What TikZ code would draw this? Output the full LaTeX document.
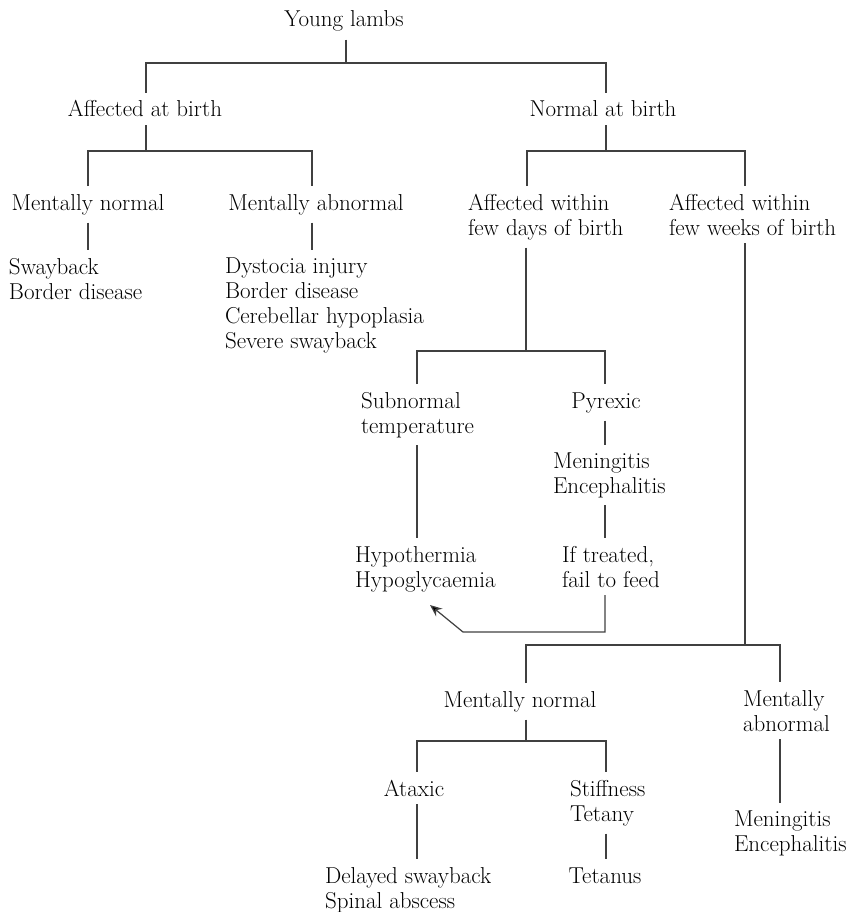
\documentclass[tikz,border=0pt]{standalone}
\usepackage{fontspec}
\usetikzlibrary{arrows.meta}
\begin{document}
\begin{tikzpicture}[x=1pt,y=-1pt,
  label/.style={inner xsep=0pt,inner ysep=8pt,outer sep=0pt,text=black,
    font=\fontsize{23}{24.7}\selectfont},
  ctr/.style={label,anchor=base},
  lft/.style={label,anchor=base west,align=left},
  link/.style={draw=black!75,line width=1.2pt},
  feedback/.style={link,-{Stealth[length=12pt,width=10pt,fill=black]}}]
\useasboundingbox (0,0) rectangle (856,912);

% ---- labels (multi-line labels are placed by their last baseline) ----
\node[ctr] (young) at (344,27) {Young lambs};
\node[ctr] (aff)   at (145,117) {Affected at birth};
\node[ctr] (norm)  at (603,117) {Normal at birth};

\node[ctr] (mn1)   at (88,210)  {Mentally normal};
\node[ctr] (ma1)   at (316,210) {Mentally abnormal};
\node[lft] (sway)  at (9,299)   {Swayback\\Border disease};
\node[lft] (dys)   at (225,348) {Dystocia injury\\Border disease\\Cerebellar hypoplasia\\Severe swayback};

\node[lft] (days)  at (468,235) {Affected within\\few days of birth};
\node[lft] (weeks) at (669,235) {Affected within\\few weeks of birth};

\node[lft] (subn)  at (361,433) {Subnormal\\temperature};
\node[ctr] (pyr)   at (606,408) {Pyrexic};
\node[lft] (menc)  at (553,493) {Meningitis\\Encephalitis};
\node[lft] (hypo)  at (355,587) {Hypothermia\\Hypoglycaemia};
\node[lft] (treat) at (562,587) {If treated,\\fail to feed};

\node[ctr] (mn2)   at (520,707) {Mentally normal};
\node[lft] (ma2)   at (743,731) {Mentally\\abnormal};
\node[lft] (menc2) at (734,851) {Meningitis\\Encephalitis};
\node[ctr] (atx)   at (414,796) {Ataxic};
\node[lft] (stiff) at (570,821) {Stiffness\\Tetany};
\node[lft] (delay) at (325,908) {Delayed swayback\\Spinal abscess};
\node[ctr] (tet)   at (605,883) {Tetanus};

% ---- junction points of the branch bars ----
\coordinate (jTop)   at (346,63);
\coordinate (xAff)   at (146,63);
\coordinate (xNorm)  at (606,63);
\coordinate (jAff)   at (146,151);
\coordinate (xMn1)   at (88,151);
\coordinate (xMa1)   at (312,151);
\coordinate (jNorm)  at (606,151);
\coordinate (xDays)  at (527,151);
\coordinate (xWeeks) at (745,151);
\coordinate (jDays)  at (526,351);
\coordinate (xSub)   at (417,351);
\coordinate (xPyr)   at (605,351);
\coordinate (jWeeks) at (745,645);
\coordinate (xMn)    at (526,645);
\coordinate (xMa)    at (780,645);
\coordinate (jMn)    at (526,741);
\coordinate (xAtx)   at (417,741);
\coordinate (xStf)   at (606,741);
\coordinate (fbKnee) at (463,632);
\coordinate (fbTip)  at (430,605);

% ---- connectors ----
\draw[link] (jTop |- young.south) -- (jTop);
\draw[link] (xAff |- aff.north) -- (xAff) -- (xNorm) -- (xNorm |- norm.north);

\draw[link] (jAff |- aff.south) -- (jAff);
\draw[link] (xMn1 |- mn1.north) -- (xMn1) -- (xMa1) -- (xMa1 |- ma1.north);
\draw[link] (xMn1 |- mn1.south) -- (xMn1 |- sway.north);
\draw[link] (xMa1 |- ma1.south) -- (xMa1 |- dys.north);

\draw[link] (jNorm |- norm.south) -- (jNorm);
\draw[link] (xDays |- days.north) -- (xDays) -- (xWeeks) -- (xWeeks |- weeks.north);

\draw[link] (jDays |- days.south) -- (jDays);
\draw[link] (xSub |- subn.north) -- (xSub) -- (xPyr) -- (xPyr |- pyr.north);
\draw[link] (xSub |- subn.south) -- (xSub |- hypo.north);
\draw[link] (xPyr |- pyr.south) -- (xPyr |- menc.north);
\draw[link] (xPyr |- menc.south) -- (xPyr |- treat.north);
\draw[feedback] (xPyr |- treat.south) -- (xPyr |- fbKnee) -- (fbKnee) -- (fbTip);

\draw[link] (jWeeks |- weeks.south) -- (jWeeks);
\draw[link] (xMn |- mn2.north) -- (xMn) -- (xMa) -- (xMa |- ma2.north);
\draw[link] (xMa |- ma2.south) -- (xMa |- menc2.north);

\draw[link] (jMn |- mn2.south) -- (jMn);
\draw[link] (xAtx |- atx.north) -- (xAtx) -- (xStf) -- (xStf |- stiff.north);
\draw[link] (xAtx |- atx.south) -- (xAtx |- delay.north);
\draw[link] (xStf |- stiff.south) -- (xStf |- tet.north);
\end{tikzpicture}
\end{document}
